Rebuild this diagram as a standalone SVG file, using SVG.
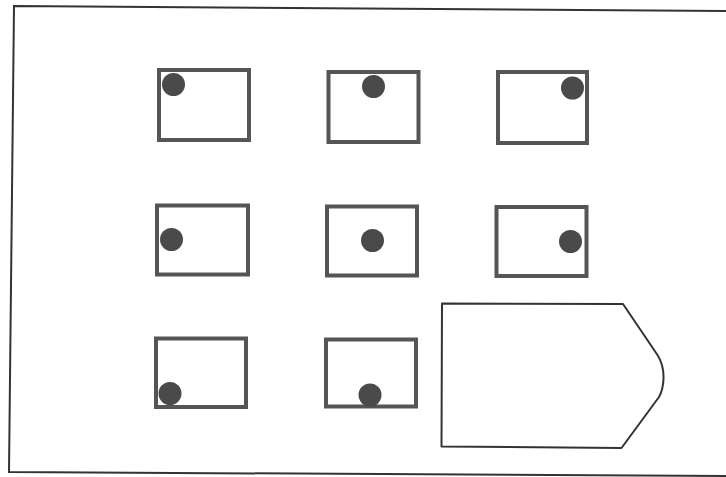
<svg xmlns="http://www.w3.org/2000/svg" width="726" height="477" viewBox="0 0 726 477">
<style>
.frame{fill:none;stroke:#333;stroke-width:2}
.box{fill:#fff;stroke:#555;stroke-width:4}
.dot{fill:#4a4a4a}
.tag{fill:#fff;stroke:#333;stroke-width:2;stroke-linejoin:round}
</style>
<rect width="726" height="477" fill="#fff"/>
<path class="frame" d="M726,11 L14,6 L9,472 L726,476"/>
<g id="box1"><rect class="box" x="159" y="70" width="90" height="70"/><circle class="dot" cx="173.5" cy="84.5" r="11.5"/></g>
<g id="box2"><rect class="box" x="328.5" y="72" width="90" height="70"/><circle class="dot" cx="373.5" cy="86.5" r="11.5"/></g>
<g id="box3"><rect class="box" x="498" y="72" width="89" height="71"/><circle class="dot" cx="572.5" cy="88" r="11.5"/></g>
<g id="box4"><rect class="box" x="157" y="205.5" width="91" height="69"/><circle class="dot" cx="171.5" cy="239.5" r="11.5"/></g>
<g id="box5"><rect class="box" x="327" y="206.5" width="90" height="69"/><circle class="dot" cx="372.5" cy="240.5" r="11.5"/></g>
<g id="box6"><rect class="box" x="496.5" y="207" width="90" height="69"/><circle class="dot" cx="570.5" cy="241.5" r="11.5"/></g>
<g id="box7"><rect class="box" x="156" y="338.5" width="90" height="68.5"/><circle class="dot" cx="170" cy="393.5" r="11.5"/></g>
<g id="box8"><rect class="box" x="326" y="339.5" width="90" height="67"/><circle class="dot" cx="370" cy="395" r="11.5"/></g>
<g id="tag"><path class="tag" d="M442,303.5 L623,304 L657.5,355 Q664,365 663.5,379 Q663,390 659,397 L621.5,448 L441.5,446.5 Z"/></g>
</svg>
